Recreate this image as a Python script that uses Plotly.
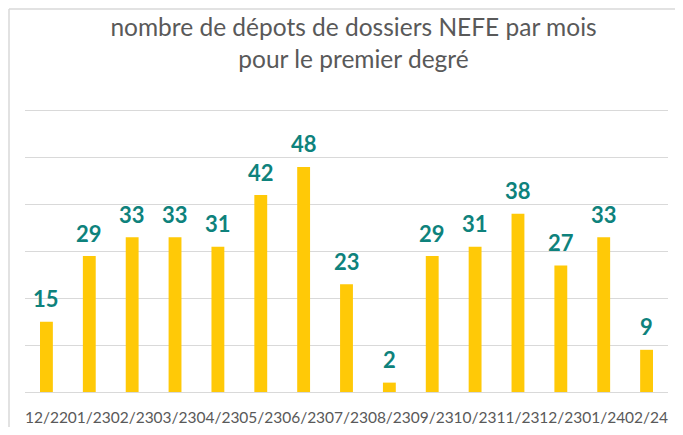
import plotly.graph_objects as go

months = ["12/22", "01/23", "02/23", "03/23", "04/23", "05/23", "06/23", "07/23",
          "08/23", "09/23", "10/23", "11/23", "12/23", "01/24", "02/24"]
depots = [15, 29, 33, 33, 31, 42, 48, 23, 2, 29, 31, 38, 27, 33, 9]
y_ticks = [0, 10, 20, 30, 40, 50, 60]

title_line1 = "nombre de dépots de dossiers NEFE par mois"
title_line2 = "pour le premier degré"

BAR = "#FFC907"
TEAL = "#0E827C"
GRAY = "#595959"

# the page body keeps an 8px margin, so the figure is 16px smaller than the window
W, H = 667, 419
L, R, T, B = 17, 7, 101, 35
plot_w = W - L - R
plot_h = H - T - B
y_max = 60 * plot_h / (plot_h - 1.7)   # keeps the 60 grid line just inside the plot

fig = go.Figure()
fig.add_trace(go.Bar(
    x=months, y=depots, marker=dict(color=BAR, line=dict(width=0)),
    width=0.3, hoverinfo="x+y", showlegend=False,
))

for m, v in zip(months, depots):
    fig.add_annotation(x=m, y=v, xref="x", yref="y", text=f"<b>{v}</b>",
                       showarrow=False, yanchor="middle", yshift=23,
                       font=dict(family="Lato", size=22, color=TEAL))

frame_x = (1 - L) / plot_w
frame_y = (H - B - 1) / plot_h

fig.update_layout(
    width=W, height=H,
    margin=dict(l=L, r=R, t=T, b=B, autoexpand=False),
    paper_bgcolor="white", plot_bgcolor="white",
    title=dict(text=title_line1 + "<br>" + title_line2,
               font=dict(family="Lato", size=24.5, color=GRAY),
               x=345.5 / W, xanchor="center", y=1 - 28 / H, yanchor="middle",
               yref="container", automargin=False),
    xaxis=dict(tickfont=dict(family="Lato", size=15.5, color=GRAY), tickangle=0,
               showgrid=False, showline=False, ticks="outside", ticklen=11,
               tickcolor="rgba(0,0,0,0)", fixedrange=True, automargin=False),
    yaxis=dict(range=[0, y_max], tickvals=y_ticks, showticklabels=False,
               showgrid=True, gridcolor="#D9D9D9", gridwidth=1,
               zeroline=True, zerolinecolor="#D9D9D9", zerolinewidth=1,
               showline=False, fixedrange=True, automargin=False),
    bargap=0.7,
    shapes=[
        dict(type="line", xref="paper", yref="paper", x0=frame_x, x1=frame_x,
             y0=-0.5, y1=frame_y, line=dict(color="#D9D9D9", width=1.5), layer="below"),
        dict(type="line", xref="paper", yref="paper", x0=frame_x, x1=1.3,
             y0=frame_y, y1=frame_y, line=dict(color="#D9D9D9", width=1.5), layer="below"),
    ],
)

fig.write_html("out.html")
